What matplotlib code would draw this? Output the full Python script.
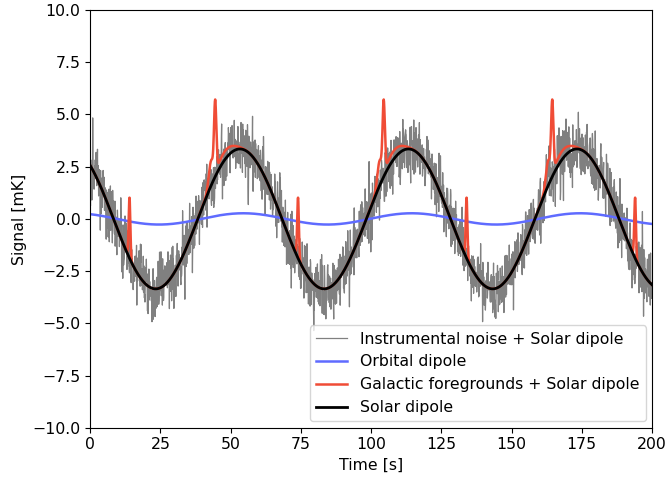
import numpy as np
import matplotlib
matplotlib.use('Agg')
import matplotlib.pyplot as plt

plt.rcParams['font.size'] = 11.3

# time axis [s]
t = np.linspace(0, 200, 2001)

# dipole parameters
solar_amp = 3.35      # mK
solar_peak = 53.3     # s, time of first maximum
orbital_amp = 0.27    # mK
orbital_peak = 54.5   # s
period = 60.0         # s (spin period)

# galactic crossings: centre [s], height [mK], width [s]
gal_times = [14.0, 44.5, 74.0, 104.5, 134.0, 164.5, 194.0]
gal_heights = [2.9, 3.3, 2.9, 3.3, 2.9, 3.3, 2.9]
gal_widths = [0.3, 0.4, 0.3, 0.4, 0.3, 0.4, 0.3]
# broad diffuse emission near the plane
broad_times = [43.0, 48.0, 103.0, 108.0, 163.0, 168.0]
broad_heights = [1.1, 0.4, 1.1, 0.4, 1.1, 0.4]
broad_widths = [0.8, 3.0, 0.8, 3.0, 0.8, 3.0]

noise_sigma = 0.75    # mK, instrumental white noise

solar = solar_amp * np.cos(2 * np.pi * (t - solar_peak) / period)
orbital = orbital_amp * np.cos(2 * np.pi * (t - orbital_peak) / period)

galactic = np.zeros_like(t)
for c, h, w in zip(gal_times + broad_times, gal_heights + broad_heights, gal_widths + broad_widths):
    galactic += h * np.exp(-0.5 * ((t - c) / w) ** 2)

rng = np.random.default_rng(3)  # one noise realisation
noise = rng.normal(0, noise_sigma, t.size)

fig, ax = plt.subplots(figsize=(6.68, 4.79), dpi=100)
ax.plot(t, solar + noise, color='gray', lw=0.9, label='Instrumental noise + Solar dipole')
ax.plot(t, orbital, color='#5f6bff', lw=1.8, label='Orbital dipole')
ax.plot(t, solar + galactic, color='#f04c36', lw=1.8, label='Galactic foregrounds + Solar dipole')
ax.plot(t, solar, color='black', lw=2, label='Solar dipole')

ax.set_xlim(0, 200)
ax.set_ylim(-10, 10)
ax.set_xlabel('Time [s]')
ax.set_ylabel('Signal [mK]')
ax.legend(loc='lower right', borderaxespad=0.4)

plt.subplots_adjust(left=0.135, right=0.976, top=0.979, bottom=0.107)
plt.savefig('out.png')
plt.close()
